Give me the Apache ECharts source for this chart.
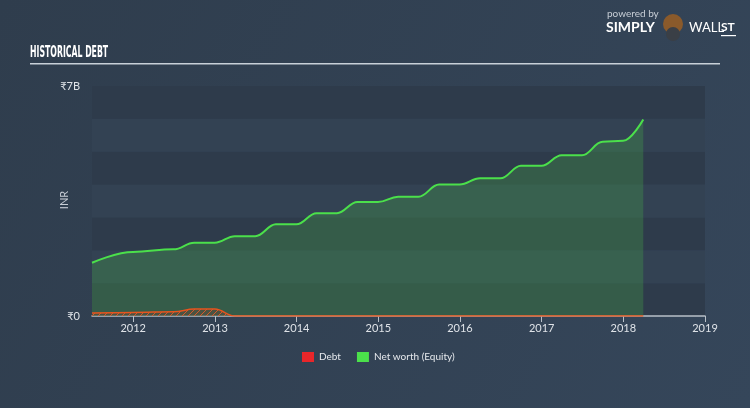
<!DOCTYPE html>
<html><head><meta charset="utf-8">
<script src="https://cdn.jsdelivr.net/npm/echarts@6/dist/echarts.min.js"></script>
<style>html,body{margin:0;padding:0;}#c{width:750px;height:408px;}</style>
</head><body><div id="c"></div>
<script>
// Data (values in ₹ billions)
const equityDates = ['2011-07-01','2011-12-31','2012-06-30','2012-09-30','2012-12-31','2013-03-31','2013-06-30','2013-09-30','2013-12-31','2014-03-31','2014-06-30','2014-09-30','2014-12-31','2015-03-31','2015-06-30','2015-09-30','2015-12-31','2016-03-31','2016-06-30','2016-09-30','2016-12-31','2017-03-31','2017-06-30','2017-09-30','2017-12-31','2018-03-31'];
const equity = [1.62,1.95,2.03,2.23,2.23,2.43,2.43,2.79,2.79,3.13,3.13,3.47,3.47,3.63,3.63,4.00,4.00,4.19,4.19,4.57,4.57,4.89,4.89,5.30,5.33,5.98];
const debtDates = ['2011-07-01','2011-12-31','2012-06-30','2012-09-30','2012-12-31','2013-03-31','2018-03-31'];
const debt = [0.09,0.11,0.13,0.21,0.21,0,0];
const yTickLabels = {0:'₹0', 7:'₹7B'};
const xMin = '2011-07-01', xMax = '2019-01-01';

const pc = document.createElement('canvas');
pc.width = 6; pc.height = 6;
const g = pc.getContext('2d');
g.fillStyle = 'rgba(90,75,60,0.6)'; g.fillRect(0,0,6,6);
g.strokeStyle = 'rgba(230,90,40,0.9)'; g.lineWidth = 1;
g.beginPath(); g.moveTo(0,6); g.lineTo(6,0); g.moveTo(-3,3); g.lineTo(3,-3); g.moveTo(3,9); g.lineTo(9,3); g.stroke();

const chart = echarts.init(document.getElementById('c'));
const font = 'Lato, "Open Sans", sans-serif';
chart.setOption({
  backgroundColor: {type:'linear',x:0,y:0,x2:1,y2:1,colorStops:[{offset:0,color:'#2f3d4d'},{offset:1,color:'#35465a'}]},
  animation:false,
  graphic:[
    {type:'text', x:30, y:45, scaleX:0.54, style:{text:'HISTORICAL DEBT', fill:'#ffffff', font:'bold 16px "DejaVu Sans Condensed", "DejaVu Sans", sans-serif'}},
    {type:'rect', shape:{x:30,y:63,width:690,height:1.5}, style:{fill:'#c8d0d8'}},
    {type:'text', x:607, y:9, style:{text:'powered by', fill:'#c8ced6', font:'10px '+font}},
    {type:'text', x:606, y:20, style:{text:'SIMPLY', fill:'#ffffff', font:'bold 14px '+font}},
    {type:'circle', shape:{cx:673,cy:24,r:10}, style:{fill:'#8a5a2b'}},
    {type:'circle', shape:{cx:673,cy:34,r:7}, style:{fill:'#3a3f46'}},
    {type:'text', x:689, y:21, style:{text:'WALL', fill:'#ffffff', font:'13px '+font}},
    {type:'text', x:721, y:21, style:{text:'ST', fill:'#ffffff', font:'bold 12px '+font}},
    {type:'rect', shape:{x:721,y:35,width:15,height:1.2}, style:{fill:'#ffffff'}},
    {type:'text', x:64, y:200, rotation:Math.PI/2, style:{text:'INR', fill:'#c8ced6', font:'11px '+font, align:'center', verticalAlign:'middle'}}
  ],
  grid:{left:92,right:45,top:86,bottom:92},
  legend:{
    bottom:41, left:297, itemGap:16, icon:'rect', itemWidth:12, itemHeight:10, itemTextGap:5,
    textStyle:{color:'#e6e9ed', fontSize:10, fontFamily:font},
    data:[{name:'Debt', itemStyle:{color:'#e8262a'}},{name:'Net worth (Equity)', itemStyle:{color:'#4be04b'}}]
  },
  xAxis:{
    type:'time', min:xMin, max:xMax,
    minInterval:365*24*3600*1000, maxInterval:366*24*3600*1000,
    axisLine:{show:true, lineStyle:{color:'#b8c0c8', width:1.5}},
    axisTick:{show:true, length:6, lineStyle:{color:'#b8c0c8'}},
    axisLabel:{color:'#dfe3e8', fontSize:11, fontFamily:font, formatter:'{yyyy}', margin:7, showMinLabel:false, showMaxLabel:true},
    splitLine:{show:false}
  },
  yAxis:{
    type:'value', min:0, max:7, interval:1,
    axisLine:{show:false}, axisTick:{show:false},
    axisLabel:{color:'#dfe3e8', fontSize:11, fontFamily:font, margin:12,
      formatter:v=> (yTickLabels[v]!==undefined ? yTickLabels[v] : '')},
    splitLine:{show:false},
    splitArea:{show:true, areaStyle:{color:['#2e3b4b','#334253']}}
  },
  series:[
    {name:'Net worth (Equity)', type:'line', smooth:0.4, smoothMonotone:'x', symbol:'none',
     data:equityDates.map((d,i)=>[d,equity[i]]),
     lineStyle:{color:'#4be04b', width:2},
     itemStyle:{color:'#4be04b'},
     areaStyle:{color:'rgba(70,169,71,0.3)', opacity:1}},
    {name:'Debt', type:'line', smooth:0.4, smoothMonotone:'x', symbol:'none',
     data:debtDates.map((d,i)=>[d,debt[i]]),
     lineStyle:{color:'#e8541e', width:1.5},
     itemStyle:{color:'#e8262a'},
     areaStyle:{color:{image:pc, repeat:'repeat'}, opacity:1}}
  ]
});
</script></body></html>
